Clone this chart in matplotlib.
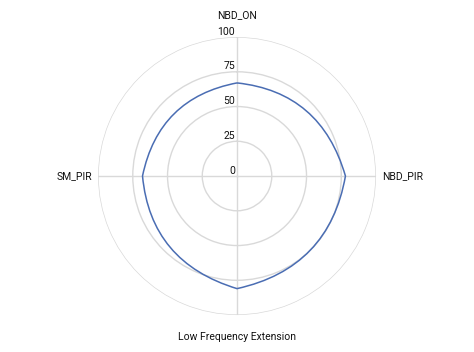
import numpy as np
import matplotlib.pyplot as plt
from matplotlib.path import Path
from matplotlib.patches import PathPatch
from matplotlib.transforms import offset_copy

plt.rcParams['font.family'] = ['Roboto', 'DejaVu Sans']

# chart data
categories = ['NBD_ON', 'NBD_PIR', 'Low Frequency Extension', 'SM_PIR']
values = [67, 78, 81, 68]
r_ticks = [0, 25, 50, 75, 100]

angles = np.linspace(0, 2 * np.pi, len(categories), endpoint=False)

fig = plt.figure(figsize=(4.74, 3.52), dpi=100)
ax = fig.add_axes([0.2068, 0.105, 0.5865, 0.7898], projection='polar')
ax.set_theta_zero_location('N')
ax.set_theta_direction(-1)
ax.set_ylim(0, 100)

grid_color = '#d9d9d9'
ax.set_yticks(r_ticks[1:])
ax.set_yticklabels([])
ax.set_xticks(angles)
ax.set_xticklabels([])
ax.grid(True, color=grid_color, linewidth=1)
ax.spines['polar'].set_visible(False)
ax.tick_params(length=0)

# curved radar edges: one quadratic bezier per edge, control point pushed
# out at the mid angle (the source chart's smoothing, pointed at the vertices)
bulge = 1.18
n = len(values)
verts = [(angles[0], values[0])]
codes = [Path.MOVETO]
for i in range(n):
    a0 = angles[i]
    a1 = angles[i] + 2 * np.pi / n
    v1 = values[(i + 1) % n]
    ctrl_r = bulge * (values[i] + v1) / 2
    verts += [((a0 + a1) / 2, ctrl_r), (a1, v1)]
    codes += [Path.CURVE3, Path.CURVE3]
ax.add_patch(PathPatch(Path(verts, codes), facecolor='none',
                       edgecolor='#4a6db3', linewidth=1.1, zorder=3))

# radial tick labels just above each ring, left of the axis line
for r in r_ticks:
    tr = offset_copy(ax.transData, fig=fig, x=-1.5, y=0.3, units='points')
    ax.text(0, r, str(r), transform=tr, ha='right', va='bottom',
            fontsize=7.5, color='#111111')

# category labels around the outside
offsets = [(0, 12, 'center', 'bottom'), (4.5, 0, 'left', 'center'),
           (0, -12, 'center', 'top'), (-4.5, 0, 'right', 'center')]
for ang, name, (dx, dy, ha, va) in zip(angles, categories, offsets):
    tr = offset_copy(ax.transData, fig=fig, x=dx, y=dy, units='points')
    ax.text(ang, 100, name, transform=tr, ha=ha, va=va,
            fontsize=7.5, color='#111111')

fig.savefig('out.png', dpi=100)
